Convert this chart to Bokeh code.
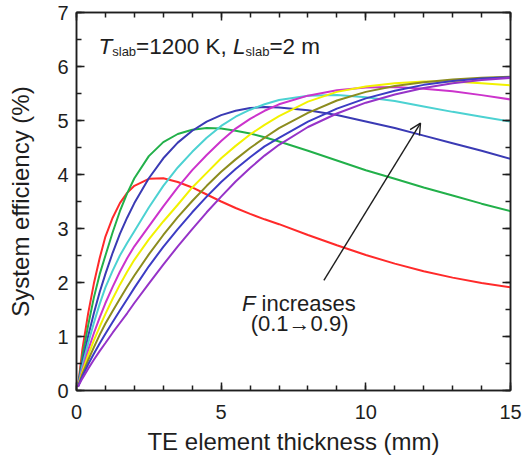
from bokeh.plotting import figure
from bokeh.models import (Range1d, FixedTicker, LinearAxis, Label, Arrow, OpenHead,
                          CustomJSTickFormatter)
from bokeh.embed import file_html
from bokeh.resources import INLINE

# TE element thickness (mm)
thickness = [0.05, 0.2, 0.4, 0.6, 0.8, 1.0, 1.25, 1.5, 1.75, 2.0, 2.5, 3.0, 3.5, 4.0, 4.5,
             5.0, 5.5, 6.0, 6.5, 7, 8, 9, 10, 11, 12, 13, 14, 15]

# System efficiency (%) for fill factor F = 0.1 ... 0.9
eff_f01 = [0.07, 0.75, 1.42, 1.98, 2.45, 2.85, 3.20, 3.47, 3.66, 3.79, 3.92, 3.93, 3.86, 3.76, 3.63,
           3.50, 3.38, 3.27, 3.17, 3.08, 2.88, 2.69, 2.51, 2.35, 2.21, 2.09, 1.99, 1.91]
eff_f02 = [0.07, 0.62, 1.20, 1.72, 2.15, 2.50, 2.93, 3.32, 3.65, 3.93, 4.34, 4.60, 4.75, 4.83, 4.86,
           4.85, 4.81, 4.76, 4.69, 4.61, 4.44, 4.26, 4.08, 3.92, 3.76, 3.61, 3.46, 3.32]
eff_f03 = [0.07, 0.52, 1.00, 1.43, 1.82, 2.16, 2.55, 2.90, 3.20, 3.47, 3.93, 4.30, 4.59, 4.81, 4.98,
           5.10, 5.18, 5.23, 5.25, 5.24, 5.19, 5.10, 4.98, 4.86, 4.72, 4.58, 4.44, 4.29]
eff_f04 = [0.07, 0.45, 0.87, 1.25, 1.60, 1.91, 2.22, 2.50, 2.73, 2.95, 3.39, 3.79, 4.13, 4.42, 4.68,
           4.90, 5.07, 5.20, 5.30, 5.38, 5.46, 5.47, 5.43, 5.36, 5.26, 5.16, 5.07, 4.98]
eff_f05 = [0.07, 0.38, 0.74, 1.06, 1.35, 1.62, 1.92, 2.20, 2.45, 2.67, 3.04, 3.41, 3.76, 4.08, 4.36,
           4.62, 4.85, 5.03, 5.18, 5.30, 5.46, 5.56, 5.61, 5.62, 5.59, 5.54, 5.47, 5.39]
eff_f06 = [0.07, 0.34, 0.65, 0.93, 1.18, 1.42, 1.70, 1.96, 2.20, 2.42, 2.80, 3.13, 3.44, 3.76, 4.03,
           4.30, 4.53, 4.74, 4.92, 5.08, 5.35, 5.53, 5.63, 5.69, 5.72, 5.72, 5.69, 5.65]
eff_f07 = [0.07, 0.30, 0.56, 0.80, 1.03, 1.24, 1.47, 1.70, 1.92, 2.13, 2.52, 2.88, 3.21, 3.51, 3.79,
           4.05, 4.28, 4.49, 4.68, 4.86, 5.14, 5.37, 5.53, 5.64, 5.71, 5.76, 5.79, 5.81]
eff_f08 = [0.07, 0.26, 0.48, 0.68, 0.87, 1.05, 1.27, 1.48, 1.69, 1.90, 2.30, 2.66, 2.99, 3.30, 3.59,
           3.86, 4.10, 4.32, 4.52, 4.68, 4.98, 5.22, 5.41, 5.55, 5.66, 5.73, 5.78, 5.80]
eff_f09 = [0.07, 0.22, 0.40, 0.57, 0.73, 0.88, 1.07, 1.25, 1.43, 1.62, 1.98, 2.33, 2.67, 2.99, 3.30,
           3.59, 3.87, 4.12, 4.35, 4.55, 4.88, 5.13, 5.33, 5.48, 5.60, 5.69, 5.75, 5.79]

series = [eff_f01, eff_f02, eff_f03, eff_f04, eff_f05, eff_f06, eff_f07, eff_f08, eff_f09]
colors = ["#ff2a2a", "#22b04a", "#3a3ab4", "#4cd2d2", "#cc33cc", "#f2f200", "#8c8c1e", "#3c3cc4", "#9633c8"]

x_major = [0, 5, 10, 15]
x_minor = list(range(0, 16))
y_major = [0, 1, 2, 3, 4, 5, 6, 7]
y_minor = [i * 0.5 for i in range(15)]

# annotation arrow (data coords)
arrow_start = (8.55, 2.04)
arrow_end = (11.89, 4.95)

FONT = "Liberation Sans"
INK = "#1e1e1e"

p = figure(frame_width=434, frame_height=378, x_range=Range1d(0, 15), y_range=Range1d(0, 7),
           output_backend="svg", toolbar_location=None,
           min_border_left=76, min_border_right=12, min_border_top=12, min_border_bottom=66)
p.grid.visible = False
p.outline_line_color = INK
p.outline_line_width = 1.5
p.background_fill_color = "white"
p.border_fill_color = "white"

for ys, c in zip(series, colors):
    p.line(thickness, ys, line_color=c, line_width=2)


def style(ax, ticks, minor, labels=True):
    ax.ticker = FixedTicker(ticks=ticks, minor_ticks=minor)
    ax.axis_line_color = INK
    ax.axis_line_width = 1.5
    ax.major_tick_line_color = INK
    ax.major_tick_line_width = 1.5
    ax.minor_tick_line_color = INK
    ax.minor_tick_line_width = 1.5
    ax.major_tick_in = 8
    ax.major_tick_out = 0
    ax.minor_tick_in = 5
    ax.minor_tick_out = 0
    if labels:
        ax.major_label_text_font = FONT
        ax.major_label_text_font_size = "20px"
        ax.major_label_text_color = INK
        ax.axis_label_text_font = FONT
        ax.axis_label_text_font_size = "24px"
        ax.axis_label_text_font_style = "normal"
        ax.axis_label_text_color = INK
    else:
        ax.formatter = CustomJSTickFormatter(code="return ''")
        ax.major_label_text_font_size = "1px"
        ax.major_label_standoff = 0


style(p.xaxis[0], x_major, x_minor)
p.xaxis[0].axis_label = "TE element thickness (mm)"
p.xaxis[0].major_label_standoff = 14
p.xaxis[0].axis_label_standoff = 6
style(p.yaxis[0], y_major, y_minor)
p.yaxis[0].axis_label = "System efficiency (%)"
p.yaxis[0].major_label_standoff = 8
p.yaxis[0].axis_label_standoff = 20

top_ax = LinearAxis()
style(top_ax, x_major, x_minor, labels=False)
p.add_layout(top_ax, "above")
right_ax = LinearAxis()
style(right_ax, y_major, y_minor, labels=False)
p.add_layout(right_ax, "right")

# Top-left condition text
ax0, ay0 = 0.76, 6.37
S = 22.5
SUB = 13
pieces = [
    ("T", 0.0, 0, S, "italic"),
    ("slab", 0.611 * S, -5, SUB, "normal"),
    ("=1200 K,", 0.611 * S + 1.834 * SUB, 0, S, "normal"),
    ("L", 0.611 * S + 1.834 * SUB + 4.309 * S, 0, S, "italic"),
    ("slab", 0.611 * S + 1.834 * SUB + 4.865 * S, -5, SUB, "normal"),
    ("=2 m", 0.611 * S + 2 * 1.834 * SUB + 4.865 * S, 0, S, "normal"),
]
for txt, dx, dy, fs, st in pieces:
    p.add_layout(Label(x=ax0, y=ay0, text=txt, x_offset=dx, y_offset=dy,
                       text_font=FONT, text_font_size=f"{fs}px", text_font_style=st,
                       text_color=INK, text_align="left", text_baseline="alphabetic"))

# F increases annotation
p.add_layout(Label(x=5.72, y=1.61, text="F", text_font=FONT, text_font_size="22px",
                   text_font_style="italic", text_color=INK, text_baseline="alphabetic"))
p.add_layout(Label(x=5.72, y=1.61, x_offset=(0.611 + 0.278) * 22, text="increases", text_font=FONT,
                   text_font_size="22px", text_color=INK, text_baseline="alphabetic"))
p.add_layout(Label(x=7.71, y=1.24, text="(0.1\u21920.9)", text_font=FONT, text_font_size="22px",
                   text_color=INK, text_align="center", text_baseline="alphabetic"))

p.add_layout(Arrow(end=OpenHead(size=11, line_width=1.4, line_color=INK),
                   x_start=arrow_start[0], y_start=arrow_start[1],
                   x_end=arrow_end[0], y_end=arrow_end[1],
                   line_width=1.4, line_color=INK))

open("out.html", "w").write(file_html(p, INLINE))
